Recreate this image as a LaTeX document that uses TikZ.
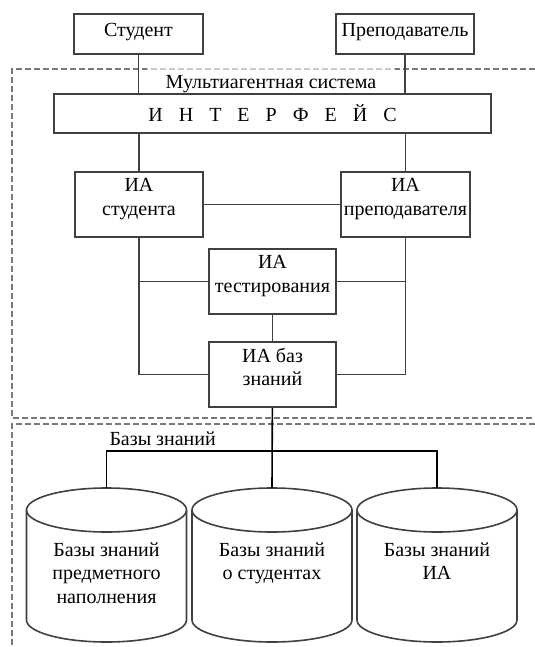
\documentclass[tikz,border=0pt]{standalone}
\usepackage{fontspec}
\setmainfont{Liberation Serif}

\tikzset{every picture/.style={line width=0.75pt}}
\definecolor{boxgray}{RGB}{64,64,64}
\definecolor{dashgray}{RGB}{120,120,120}
\newcommand{\lgap}{\hspace{0.8em}}

\begin{document}
\begin{tikzpicture}[x=0.75pt,y=0.75pt,yscale=-1,xscale=1,
	font=\fontsize{15}{17.6}\selectfont,
	agentbox/.style={draw=boxgray, line width=1.2pt, fill=white, align=center, inner sep=0pt},
	userbox/.style={agentbox, minimum height=30pt, text depth=6pt},
	iabox/.style={agentbox, minimum width=96pt, minimum height=48.75pt, text depth=11.5pt},
	link/.style={draw=boxgray, line width=1.2pt},
	kblink/.style={draw=black, line width=1.2pt},
	frame/.style={draw=dashgray, line width=1.1pt, dash pattern=on 4.5pt off 2.25pt},
	canline/.style={draw=boxgray, line width=1.2pt},
	kbtext/.style={align=center, anchor=north, inner sep=0pt}]
	\useasboundingbox (0,0) rectangle (535,647);

	%Shape: Dashed frames
	\draw[frame] (535,69) -- (12,69) -- (12,418) -- (535,418) ;
	\draw[frame] (535,424) -- (12,424) -- (12,647) ;

	% Text Node
	\node[fill=white, fill opacity=0.6, text opacity=1, minimum width=186pt, minimum height=27pt, inner sep=0pt] (mas) at (271,84) {Мультиагентная система};

	%Shape: Rectangle
	\node[userbox, minimum width=96.75pt] (student) at (138.5,34) {Студент};
	\node[userbox, minimum width=103.5pt] (teacher) at (405,34) {Преподаватель};
	\node[agentbox, minimum width=327.75pt, minimum height=29.25pt] (iface) at (272.5,113.5) {И\lgap Н\lgap Т\lgap Е\lgap Р\lgap Ф\lgap Е\lgap Й\lgap С};
	\node[iabox] (iastud) at (139,204.5) {ИА\\студента};
	\node[iabox, minimum width=96.75pt] (iateach) at (405.5,204.5) {ИА\\преподавателя};
	\node[iabox, minimum width=95.25pt] (iatest) at (272.5,281.5) {ИА\\тестирования};
	\node[iabox, minimum width=95.25pt] (iakb) at (272.5,374.5) {ИА баз\\знаний};

	%Straight Lines
	\draw[link] (student) -- (student |- iface.north) ;
	\draw[link] (teacher) -- (teacher |- iface.north) ;
	\draw[link] (iastud) -- (iastud |- iface.south) ;
	\draw[link] (iateach) -- (iateach |- iface.south) ;
	\draw[link] (iastud) -- (iateach) ;
	\draw[link] (iastud.south) -- (iastud.south |- iakb.west) -- (iakb.west) ;
	\draw[link] (iastud.south |- iatest.west) -- (iatest.west) ;
	\draw[link] (iateach.south) -- (iateach.south |- iakb.east) -- (iakb.east) ;
	\draw[link] (iateach.south |- iatest.east) -- (iatest.east) ;
	\draw[link] (iatest) -- (iakb) ;

	%Shape: Can
	\foreach \cx/\nm in {106.5/kb1, 272/kb2, 437/kb3} {
		\draw[canline, fill=white] (\cx-80,510) -- (\cx-80,620) arc[start angle=180, end angle=0, x radius=80, y radius=22] -- (\cx+80,510) ;
		\draw[canline] (\cx,510) ellipse[x radius=80, y radius=22] ;
		\coordinate (\nm) at (\cx,488) ;
	}

	%Straight Lines
	\coordinate (kbbus) at (272,451);
	\draw[kblink] (iakb) -- (kb2) ;
	\draw[kblink] (kb1) -- (kb1 |- kbbus) -- (kb3 |- kbbus) -- (kb3) ;

	% Text Node
	\node[anchor=west, inner sep=0pt] (kblabel) at (109,439) {Базы знаний};
	% Text Node
	\node[kbtext] (kb1txt) at (106.5,542) {Базы знаний\\предметного\\наполнения};
	% Text Node
	\node[kbtext] (kb2txt) at (272,542) {Базы знаний\\о студентах};
	% Text Node
	\node[kbtext] (kb3txt) at (437,542) {Базы знаний\\ИА};

\end{tikzpicture}
\end{document}
